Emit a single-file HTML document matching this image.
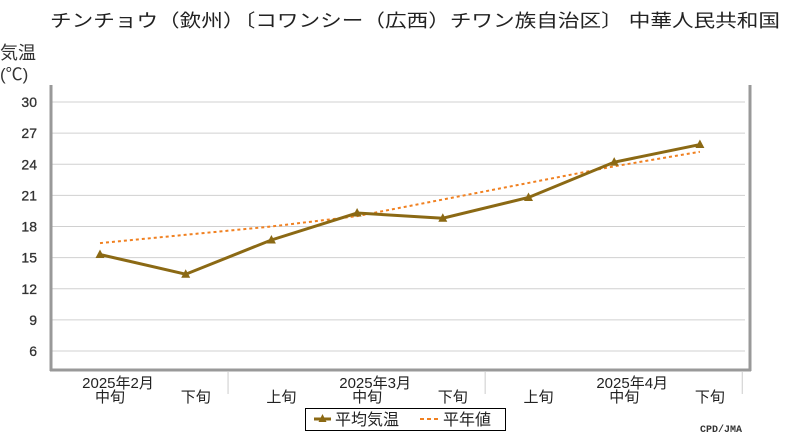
<!DOCTYPE html>
<html><head><meta charset="utf-8"><style>
body{margin:0;background:#fff;}
svg{display:block;font-family:"Liberation Sans","Noto Sans CJK JP",sans-serif;}
</style></head><body>
<svg id="chart" width="800" height="440" viewBox="0 0 800 440" xmlns="http://www.w3.org/2000/svg">
<text x="50" y="27" font-size="18" fill="#222" textLength="730" lengthAdjust="spacingAndGlyphs">チンチョウ（欽州）〔コワンシー（広西）チワン族自治区〕 中華人民共和国</text>
<text x="0" y="59" font-size="18" fill="#333">気温</text>
<text x="0" y="80" font-size="17" fill="#333">(℃)</text>
<g id="grid"></g>
<g id="xaxis"></g>
<line x1="51" y1="85" x2="51" y2="371" stroke="#999" stroke-width="3"/>
<line x1="50" y1="370" x2="751" y2="370" stroke="#999" stroke-width="3"/>
<line x1="750" y1="85" x2="750" y2="371" stroke="#999" stroke-width="3"/>
<g id="series"></g>
<g>
<rect x="305.5" y="408.5" width="200" height="22" fill="#fff" stroke="#000" stroke-width="1"/>
<line x1="314" y1="419" x2="331" y2="419" stroke="#8B6914" stroke-width="3"/>
<path d="M322.5 414 L326.5 422 L318.5 422 Z" fill="#8B6914"/>
<text x="335" y="425" font-size="16" fill="#222">平均気温</text>
<line x1="420" y1="419" x2="440" y2="419" stroke="#f08020" stroke-width="2" stroke-dasharray="4,3"/>
<text x="443" y="425" font-size="16" fill="#222">平年値</text>
</g>
<text x="700" y="432" font-size="10" font-weight="bold" fill="#333" font-family="Liberation Mono, monospace">CPD/JMA</text>
</svg>
<script>
const categories=["中旬","下旬","上旬","中旬","下旬","上旬","中旬","下旬"];
const monthLabels=["2025年2月","2025年3月","2025年4月"];
const monthIdx=[0,3,6];
const meanTemp=[15.3,13.4,16.7,19.3,18.8,20.8,24.2,25.9];
const normalTemp=[16.4,17.2,18.0,19.0,20.6,22.2,23.8,25.2];
const yTicks=[6,9,12,15,18,21,24,27,30];
const NS="http://www.w3.org/2000/svg";
function x(i){return 100+i*85.7;}
function y(v){return 102+(30-v)*10.375;}
function mk(t,a,p){const e=document.createElementNS(NS,t);for(const k in a)e.setAttribute(k,a[k]);p.appendChild(e);return e;}
const grid=document.getElementById('grid'),xa=document.getElementById('xaxis'),se=document.getElementById('series');
yTicks.forEach(v=>{
const l=mk('line',{x1:52,x2:745,y1:y(v),y2:y(v),stroke:'#d0d0d0','stroke-width':1},grid);


const t=mk('text',{x:37,y:y(v)+5,'font-size':14,fill:'#333','text-anchor':'end','stroke':'#333','stroke-width':0.3},grid);
t.textContent=v;


});
categories.forEach((c,i)=>{
const t=mk('text',{x:x(i)+10,y:402,'font-size':15,fill:'#222','text-anchor':'middle'},xa);
t.textContent=c;


});
monthLabels.forEach((m,j)=>{
const t=mk('text',{x:x(monthIdx[j])+18,y:388,'font-size':15,fill:'#222','text-anchor':'middle'},xa);
t.textContent=m;


});
[1.5,4.5,7.5].forEach(k=>{
const l=mk('line',{x1:x(k)-0.5,x2:x(k)-0.5,y1:372,y2:394,stroke:'#ccc','stroke-width':1},xa);


});
const np=mk('polyline',{points:normalTemp.map((v,i)=>x(i)+','+y(v)).join(' '),fill:'none',stroke:'#f08020','stroke-width':2,'stroke-dasharray':'3,3'},se);


const mp=mk('polyline',{points:meanTemp.map((v,i)=>x(i)+','+y(v)).join(' '),fill:'none',stroke:'#8B6914','stroke-width':3},se);


meanTemp.forEach((v,i)=>{
const p=mk('path',{d:`M${x(i)} ${y(v)-5} L${x(i)+4.5} ${y(v)+3.5} L${x(i)-4.5} ${y(v)+3.5} Z`,fill:'#8B6914'},se);


});
</script>
</body></html>
